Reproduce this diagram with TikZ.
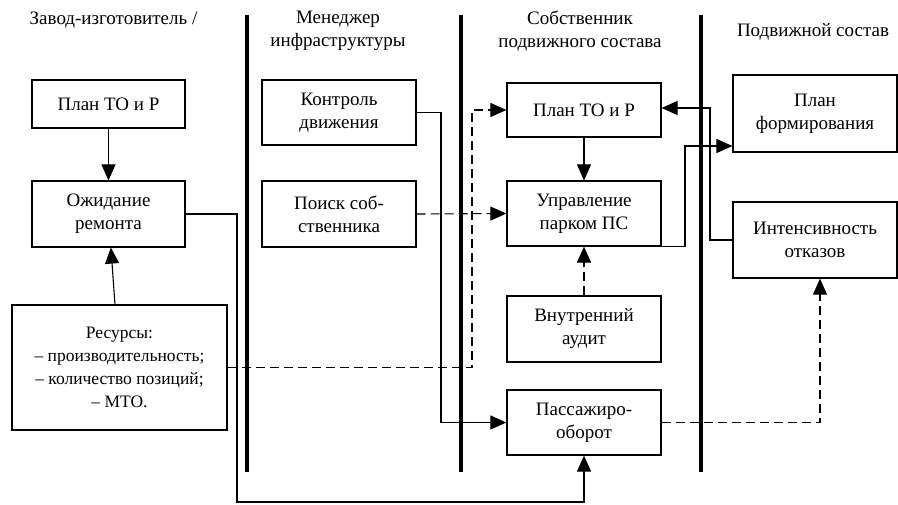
\documentclass[tikz,border=0pt]{standalone}
\usepackage{fontspec}
\setmainfont{Liberation Serif}
\usetikzlibrary{arrows.meta}
\begin{document}
\begin{tikzpicture}[x=1pt,y=-1pt,
  every node/.style={font=\fontsize{19}{23}\selectfont, align=center},
  box/.style={draw, line width=1.2pt, inner sep=0pt, minimum width=154pt, minimum height=65pt},
  lane/.style={line width=4.5pt},
  link/.style={line width=1.1pt, -{Triangle[length=16pt,width=14pt]}},
  soft/.style={dash pattern=on 9pt off 5pt}]
\useasboundingbox (0,0) rectangle (898,504);

% lane dividers
\draw[lane] (247,15) -- (247,472);
\draw[lane] (461,15) -- (461,472);
\draw[lane] (701,15) -- (701,472);

% lane headings
\node (h1) at (113.5,20) {Завод-изготовитель /};
\node (h2) at (338,31) {Менеджер\\инфраструктуры};
\node (h3) at (580,31) {Собственник\\подвижного состава};
\node (h4) at (813,32) {Подвижной состав};

% boxes
\node[box, minimum width=153pt, minimum height=48pt] (planL) at (108.5,104) {План ТО и Р};
\node[box, minimum width=153pt, minimum height=66pt] (wait) at (108.5,214) {Ожидание\\ремонта};
\node[box, minimum width=215pt, minimum height=125pt, font=\fontsize{17.5}{23}\selectfont] (res) at (119.5,367.5)
  {Ресурсы:\\– производительность;\\– количество позиций;\\– МТО.};
\node[box] (ctrl) at (339,112.5) {Контроль\\движения};
\node[box, minimum height=66pt] (search) at (339,214) {Поиск соб-\\ственника};
\node[box, minimum height=54pt] (planR) at (584,110) {План ТО и Р};
\node[box] (upr) at (584,213.5) {Управление\\парком ПС};
\node[box, minimum height=66pt] (audit) at (584,329) {Внутренний\\аудит};
\node[box] (pass) at (584,422.5) {Пассажиро-\\оборот};
\node[box, minimum width=164pt, minimum height=77pt] (form) at (815,113.5) {План\\формирования};
\node[box, minimum width=164pt, minimum height=76pt] (intens) at (815,240) {Интенсивность\\отказов};

% routing points
\coordinate (r3) at (237,502);
\coordinate (r4) at (441,0);
\coordinate (r5) at (472,0);
\coordinate (r9) at (685,146);
\coordinate (r10) at (710,108);
\coordinate (r11) at (820,0);

% connectors
\draw[link] (planL) -- (wait);
\draw[link] (res) -- (wait);
\draw[link] (wait.east) -| (r3) -| (pass.south);
\draw[link] (ctrl.east) -| (r4 |- pass.west) -- (pass.west);
\draw[link, soft] (res.east) -| (r5 |- planR.west) -- (planR.west);
\draw[link, soft] (search.east) -- (upr.west);
\draw[link] (planR) -- (upr);
\draw[link, soft] (audit) -- (upr);
\draw[link] (upr.south east) -| (r9) -- (r9 -| form.west);
\draw[link] (intens.west) -| (r10) -- (r10 -| planR.east);
\draw[link, soft] (pass.east) -| (r11 |- intens.south);
\end{tikzpicture}
\end{document}
